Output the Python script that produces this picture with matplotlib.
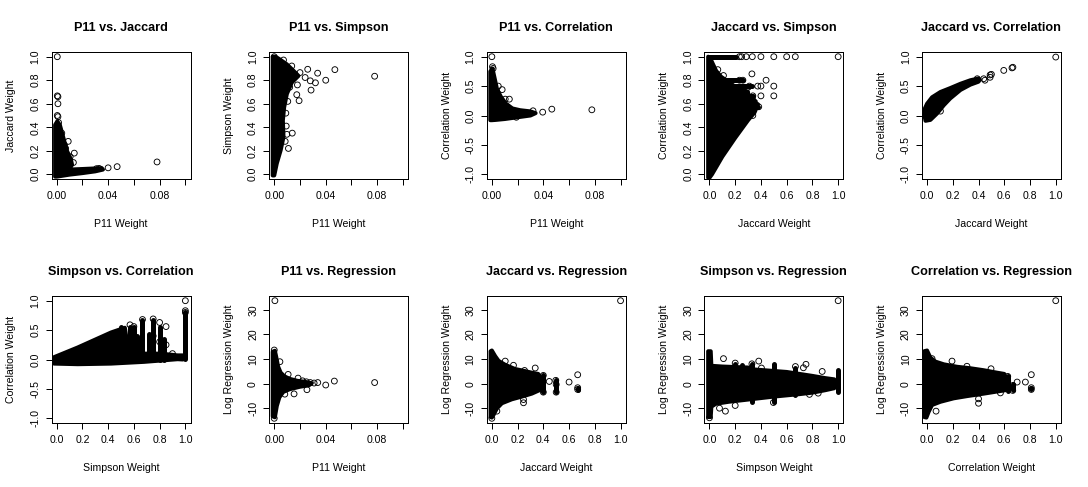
import numpy as np
import matplotlib
matplotlib.use('Agg')
import matplotlib.pyplot as plt

plt.rcParams['font.family'] = ['Liberation Sans', 'DejaVu Sans']

# --- values (dense clouds as outlines, sparse points listed) ---

# P11 vs. Jaccard
p11_jac_cloud_x = [-0.0012, -0.0012, 0.0005, 0.0025, 0.004, 0.006, 0.008, 0.011, 0.012, 0.009,
                   0.02, 0.030, 0.035, 0.036, 0.03, 0.02, 0.01, 0.003, 0.0]
p11_jac_cloud_y = [-0.02, 0.42, 0.45, 0.42, 0.36, 0.28, 0.2, 0.13, 0.08, 0.04,
                   0.045, 0.05, 0.053, 0.04, 0.025, 0.01, -0.003, -0.015, -0.02]
p11_jac_pts_x = [0.0005, 0.0005, 0.001, 0.001, 0.0005, 0.001, 0.0015, 0.009, 0.0105, 0.0137,
                 0.013, 0.006, 0.031, 0.033, 0.040, 0.047, 0.078, 0.004, 0.007]
p11_jac_pts_y = [1.0, 0.667, 0.66, 0.6, 0.5, 0.49, 0.44, 0.28, 0.149, 0.18,
                 0.1, 0.25, 0.048, 0.05, 0.055, 0.065, 0.105, 0.35, 0.22]

# P11 vs. Simpson
p11_sim_cloud_x = [-0.0012, -0.0012, 0.001, 0.0046, 0.0098, 0.015, 0.0188, 0.0136, 0.0098, 0.0077,
                   0.0067, 0.0072, 0.005, 0.002, 0.0]
p11_sim_cloud_y = [-0.01, 1.0, 1.0, 0.975, 0.935, 0.88, 0.837, 0.78, 0.683, 0.57,
                   0.458, 0.317, 0.205, 0.093, -0.01]
p11_sim_pts_x = [0.0, 0.0072, 0.0136, 0.026, 0.0337, 0.0471, 0.078, 0.040, 0.032, 0.0286,
                 0.0175, 0.0193, 0.0093, 0.014, 0.0098, 0.011, 0.020, 0.024, 0.028, 0.016,
                 0.012, 0.0105, 0.018, 0.009, 0.0085]
p11_sim_pts_y = [1.0, 0.972, 0.921, 0.893, 0.86, 0.89, 0.834, 0.80, 0.778, 0.716,
                 0.677, 0.626, 0.41, 0.35, 0.34, 0.22, 0.865, 0.823, 0.795, 0.85,
                 0.74, 0.62, 0.76, 0.52, 0.28]

# P11 vs. Correlation
p11_cor_cloud_x = [-0.0012, -0.0012, 0.0005, 0.002, 0.004, 0.007, 0.011, 0.016, 0.022, 0.03,
                   0.034, 0.03, 0.02, 0.01, 0.003, 0.0]
p11_cor_cloud_y = [-0.08, 0.75, 0.8, 0.65, 0.45, 0.32, 0.2, 0.12, 0.09, 0.07,
                   0.04, 0.0, -0.03, -0.06, -0.075, -0.08]
p11_cor_pts_x = [0.0, 0.0005, 0.001, 0.008, 0.0136, 0.0104, 0.0395, 0.0466, 0.0777, 0.032,
                 0.0265, 0.005, 0.012, 0.019, 0.024]
p11_cor_pts_y = [1.0, 0.83, 0.8, 0.44, 0.278, 0.278, 0.057, 0.108, 0.097, 0.08,
                 0.034, 0.5, 0.15, -0.03, 0.02]

# Jaccard vs. Simpson
jac_sim_cloud_x = [-0.01, -0.01, 0.005, 0.026, 0.052, 0.09, 0.155, 0.207, 0.3, 0.3,
                   0.36, 0.36, 0.35, 0.3, 0.2, 0.1, 0.02, 0.0]
jac_sim_cloud_y = [-0.03, 1.0, 0.99, 0.94, 0.88, 0.83, 0.78, 0.74, 0.7, 0.67,
                   0.62, 0.55, 0.525, 0.46, 0.31, 0.15, 0.0, -0.03]
jac_sim_rows_y = [1.0, 0.8, 0.75, 0.667, 0.6, 0.571]
jac_sim_rows_x0 = [-0.005, 0.0, 0.0, 0.0, 0.0, 0.0]
jac_sim_rows_x1 = [0.21, 0.26, 0.33, 0.34, 0.37, 0.38]
jac_sim_pts_x = [0.233, 0.25, 0.2857, 0.333, 0.4, 0.5, 0.6, 0.667, 1.0, 0.065,
                 0.109, 0.33, 0.44, 0.5, 0.5, 0.40, 0.40, 0.337, 0.375, 0.31,
                 0.233, 0.26, 0.337, 0.35, 0.383, 0.337, 0.3]
jac_sim_pts_y = [1.0, 1.0, 1.0, 1.0, 1.0, 1.0, 1.0, 1.0, 1.0, 0.89,
                 0.84, 0.854, 0.80, 0.75, 0.667, 0.667, 0.75, 0.667, 0.75, 0.75,
                 0.8, 0.8, 0.63, 0.574, 0.574, 0.5, 0.74]

# Jaccard vs. Correlation
jac_cor_cloud_x = [-0.022, -0.018, 0.0, 0.039, 0.104, 0.18, 0.26, 0.337, 0.40, 0.41,
                   0.40, 0.337, 0.26, 0.18, 0.13, 0.078, 0.026, -0.012]
jac_cor_cloud_y = [0.028, 0.114, 0.2, 0.31, 0.40, 0.466, 0.54, 0.6, 0.63, 0.61,
                   0.575, 0.525, 0.435, 0.29, 0.175, 0.035, -0.075, -0.09]
jac_cor_pts_x = [0.104, 0.44, 0.49, 0.49, 0.596, 0.66, 0.667, 1.0, 0.39, 0.5, 0.45]
jac_cor_pts_y = [0.074, 0.625, 0.69, 0.65, 0.767, 0.81, 0.82, 0.994, 0.625, 0.7, 0.6]

# Simpson vs. Correlation
sim_cor_cloud_x = [-0.02, 0.164, 0.423, 0.68, 0.94, 0.98, 0.98, 0.94, 0.81, 0.68,
                   0.56, 0.53, 0.423, 0.164, -0.02]
sim_cor_cloud_y = [-0.07, -0.08, -0.07, -0.04, 0.005, 0.0, 0.07, 0.07, 0.1, 0.1,
                   0.12, 0.54, 0.46, 0.205, 0.04]
sim_cor_cols_x = [0.5, 0.571, 0.6, 0.625, 0.667, 0.714, 0.75, 0.8, 0.833, 1.0]
sim_cor_cols_lo = [0.0, 0.0, 0.0, 0.0, 0.0, 0.0, 0.0, 0.0, 0.0, 0.01]
sim_cor_cols_hi = [0.55, 0.55, 0.55, 0.4, 0.67, 0.44, 0.67, 0.55, 0.35, 0.8]
sim_cor_pts_x = [1.0, 0.85, 0.85, 0.8, 0.75, 0.667, 0.57, 0.6, 1.0, 1.0, 0.9, 0.75, 0.8]
sim_cor_pts_y = [1.0, 0.56, 0.25, 0.63, 0.69, 0.68, 0.59, 0.56, 0.83, 0.8, 0.1, 0.4, 0.3]

# P11 vs. Regression
p11_reg_cloud_x = [-0.0012, -0.0012, 0.0005, 0.0015, 0.003, 0.005, 0.008, 0.012, 0.018, 0.024,
                   0.029, 0.027, 0.02, 0.012, 0.007, 0.004, 0.002, 0.0005]
p11_reg_cloud_y = [-13.2, 13.0, 13.4, 11.0, 7.0, 4.5, 3.0, 2.0, 1.2, 0.8,
                   0.2, -0.6, -1.2, -2.2, -3.3, -5.5, -9.0, -13.6]
p11_reg_pts_x = [0.0005, 0.0044, 0.0108, 0.0185, 0.0082, 0.0154, 0.0254, 0.028, 0.0338, 0.040,
                 0.0467, 0.078, 0.025, 0.031, 0.022, 0.0, 0.0]
p11_reg_pts_y = [33.7, 8.95, 3.8, 2.3, -4.2, -4.1, -2.4, 0.5, 0.5, -0.5,
                 1.1, 0.5, 0.8, 0.3, 1.2, -14.0, 13.7]

# Jaccard vs. Regression
jac_reg_cloud_x = [-0.01, -0.01, 0.0, 0.026, 0.052, 0.104, 0.18, 0.254, 0.31, 0.36,
                   0.37, 0.37, 0.31, 0.233, 0.155, 0.078, 0.039, 0.013, 0.0]
jac_reg_cloud_y = [-13.5, 13.2, 13.5, 11.2, 9.3, 7.7, 6.0, 5.2, 4.5, 4.0,
                   3.3, -2.6, -4.0, -5.2, -6.3, -7.9, -10.0, -12.6, -13.7]
jac_reg_cols_x = [0.4, 0.5, 0.667]
jac_reg_cols_lo = [-3.4, -3.4, -2.4]
jac_reg_cols_hi = [3.4, 1.4, -1.6]
jac_reg_pts_x = [1.0, 0.104, 0.168, 0.254, 0.337, 0.40, 0.40, 0.446, 0.497, 0.5,
                 0.5, 0.6, 0.667, 0.667, 0.667, 0.246, 0.246, 0.039, 0.0]
jac_reg_pts_y = [33.7, 9.2, 7.5, 5.4, 6.4, 3.4, -3.4, 0.95, 1.4, -0.3,
                 -3.4, 0.7, 3.66, -1.6, -2.3, -6.4, -7.7, -11.1, -14.0]

# Simpson vs. Regression
sim_reg_cloud_x = [-0.01, -0.01, 0.01, 0.015, 0.1, 0.2, 0.3, 0.35, 0.5, 0.6,
                   0.7, 0.8, 0.9, 0.97, 0.97, 0.9, 0.8, 0.7, 0.5, 0.3,
                   0.15, 0.05, 0.015, 0.01]
sim_reg_cloud_y = [-13.5, 13.2, 13.2, 7.3, 7.0, 6.8, 6.6, 5.8, 5.2, 4.8,
                   4.0, 3.2, 2.3, 1.8, -1.8, -2.6, -3.6, -4.2, -5.2, -6.4,
                   -7.3, -8.1, -9.3, -13.5]
sim_reg_cols_x = [0.2, 0.25, 0.333, 0.5, 0.667, 1.0]
sim_reg_cols_lo = [-6.1, -6.3, -7.2, -7.5, -4.5, -3.4]
sim_reg_cols_hi = [8.2, 7.5, 8.2, 8.2, 6.5, 5.4]
sim_reg_pts_x = [1.0, 0.109, 0.2, 0.383, 0.33, 0.404, 0.497, 0.668, 0.73, 0.75,
                 0.876, 0.845, 0.777, 0.124, 0.2, 0.078, 0.0, 0.337, 0.6]
sim_reg_pts_y = [33.7, 10.2, 8.4, 9.2, 8.1, 6.4, -7.6, 7.0, 6.5, 7.9,
                 5.0, -3.8, -4.3, -11.1, -8.8, -9.9, -13.8, -5.7, -3.7]

# Correlation vs. Regression
cor_reg_cloud_x = [-0.022, -0.022, 0.0, 0.026, 0.065, 0.13, 0.233, 0.337, 0.44, 0.544,
                   0.6, 0.61, 0.61, 0.44, 0.311, 0.207, 0.104, 0.039, 0.013, -0.005]
cor_reg_cloud_y = [-13.5, 13.2, 13.5, 10.6, 9.0, 7.9, 6.9, 6.3, 5.5, 4.5,
                   4.0, 2.9, -2.6, -4.0, -5.0, -5.9, -7.3, -8.6, -11.3, -13.7]
cor_reg_cols_x = [0.627, 0.667, 0.81]
cor_reg_cols_lo = [-3.0, -2.7, -2.3]
cor_reg_cols_hi = [3.0, 0.0, -1.6]
cor_reg_pts_x = [1.0, 0.039, 0.194, 0.31, 0.497, 0.627, 0.627, 0.7, 0.764, 0.81,
                 0.81, 0.81, 0.666, 0.666, 0.4, 0.4, 0.07, 0.57]
cor_reg_pts_y = [33.7, 10.2, 9.2, 7.1, 6.1, 3.0, 1.1, 0.7, 0.7, 3.7,
                 -1.6, -2.3, -0.7, -2.7, -6.1, -7.9, -11.1, -3.7]

reg_min, reg_max = -14.0, 33.7

# --- axis styles ---
def r_range(lo, hi):
    # R pads the data range by 4% on each side
    pad = 0.04 * (hi - lo)
    return lo - pad, hi + pad

P11_AXIS = (r_range(0, 0.1), [0, 0.02, 0.04, 0.06, 0.08, 0.10],
            ['0.00', '', '0.04', '', '0.08', ''])
UNIT_AXIS = (r_range(0, 1), [0, 0.2, 0.4, 0.6, 0.8, 1.0],
             ['0.0', '0.2', '0.4', '0.6', '0.8', '1.0'])
CORR_AXIS = (r_range(-1, 1), [-1, -0.5, 0, 0.5, 1],
             ['-1.0', '-0.5', '0.0', '0.5', '1.0'])
REG_AXIS = (r_range(reg_min, reg_max), [-10, 0, 10, 20, 30],
            ['-10', '0', '10', '20', '30'])

panels = [
    ('P11 vs. Jaccard', 'P11 Weight', 'Jaccard Weight', P11_AXIS, UNIT_AXIS,
     (p11_jac_cloud_x, p11_jac_cloud_y), None, None, (p11_jac_pts_x, p11_jac_pts_y)),
    ('P11 vs. Simpson', 'P11 Weight', 'Simpson Weight', P11_AXIS, UNIT_AXIS,
     (p11_sim_cloud_x, p11_sim_cloud_y), None, None, (p11_sim_pts_x, p11_sim_pts_y)),
    ('P11 vs. Correlation', 'P11 Weight', 'Correlation Weight', P11_AXIS, CORR_AXIS,
     (p11_cor_cloud_x, p11_cor_cloud_y), None, None, (p11_cor_pts_x, p11_cor_pts_y)),
    ('Jaccard vs. Simpson', 'Jaccard Weight', 'Correlation Weight', UNIT_AXIS, UNIT_AXIS,
     (jac_sim_cloud_x, jac_sim_cloud_y), None,
     (jac_sim_rows_y, jac_sim_rows_x0, jac_sim_rows_x1), (jac_sim_pts_x, jac_sim_pts_y)),
    ('Jaccard vs. Correlation', 'Jaccard Weight', 'Correlation Weight', UNIT_AXIS, CORR_AXIS,
     (jac_cor_cloud_x, jac_cor_cloud_y), None, None, (jac_cor_pts_x, jac_cor_pts_y)),
    ('Simpson vs. Correlation', 'Simpson Weight', 'Correlation Weight', UNIT_AXIS, CORR_AXIS,
     (sim_cor_cloud_x, sim_cor_cloud_y), (sim_cor_cols_x, sim_cor_cols_lo, sim_cor_cols_hi),
     None, (sim_cor_pts_x, sim_cor_pts_y)),
    ('P11 vs. Regression', 'P11 Weight', 'Log Regression Weight', P11_AXIS, REG_AXIS,
     (p11_reg_cloud_x, p11_reg_cloud_y), None, None, (p11_reg_pts_x, p11_reg_pts_y)),
    ('Jaccard vs. Regression', 'Jaccard Weight', 'Log Regression Weight', UNIT_AXIS, REG_AXIS,
     (jac_reg_cloud_x, jac_reg_cloud_y), (jac_reg_cols_x, jac_reg_cols_lo, jac_reg_cols_hi),
     None, (jac_reg_pts_x, jac_reg_pts_y)),
    ('Simpson vs. Regression', 'Simpson Weight', 'Log Regression Weight', UNIT_AXIS, REG_AXIS,
     (sim_reg_cloud_x, sim_reg_cloud_y), (sim_reg_cols_x, sim_reg_cols_lo, sim_reg_cols_hi),
     None, (sim_reg_pts_x, sim_reg_pts_y)),
    ('Correlation vs. Regression', 'Correlation Weight', 'Log Regression Weight', UNIT_AXIS, REG_AXIS,
     (cor_reg_cloud_x, cor_reg_cloud_y), (cor_reg_cols_x, cor_reg_cols_lo, cor_reg_cols_hi),
     None, (cor_reg_pts_x, cor_reg_pts_y)),
]

W, H, DPI = 1088, 487, 72
fig = plt.figure(figsize=(W / DPI, H / DPI), dpi=DPI)

box_w, box_h = 139, 127
FS = 10.5

for k, (title, xlab, ylab, xax, yax, cloud, cols, rows, pts) in enumerate(panels):
    row, col = divmod(k, 5)
    left = 51.5 + col * 217.6
    top = 52 + row * 244
    ax = fig.add_axes([left / W, (H - top - box_h) / H, box_w / W, box_h / H])

    # dense region: filled outline, thick round edge stands in for the circle rims
    ax.fill(cloud[0], cloud[1], facecolor='black', edgecolor='black', lw=4, joinstyle='round')
    if cols is not None:
        ax.vlines(cols[0], cols[1], cols[2], colors='black', lw=5, capstyle='round')
    if rows is not None:
        ax.hlines(rows[0], rows[1], rows[2], colors='black', lw=5, capstyle='round')
    ax.scatter(pts[0], pts[1], s=34, facecolors='none', edgecolors='black', linewidths=0.9,
               zorder=3)

    ax.set_xlim(xax[0])
    ax.set_ylim(yax[0])
    ax.set_xticks(xax[1])
    ax.set_xticklabels(xax[2], fontsize=FS)
    ax.set_yticks(yax[1])
    ax.set_yticklabels(yax[2], fontsize=FS, rotation=90, va='center')
    ax.tick_params(axis='both', direction='out', length=6, width=1, color='black')
    ax.tick_params(axis='x', pad=6)
    ax.tick_params(axis='y', pad=5)
    for sp in ax.spines.values():
        sp.set_linewidth(1)

    ax.set_title(title, fontsize=12.6, fontweight='bold', pad=21)
    ax.set_xlabel(xlab, fontsize=FS, va='baseline')
    ax.xaxis.set_label_coords(0.5, -48 / box_h)
    ax.set_ylabel(ylab, fontsize=FS, va='baseline')
    ax.yaxis.set_label_coords(-37 / box_w, 0.5)

fig.savefig('out.png', dpi=DPI)
